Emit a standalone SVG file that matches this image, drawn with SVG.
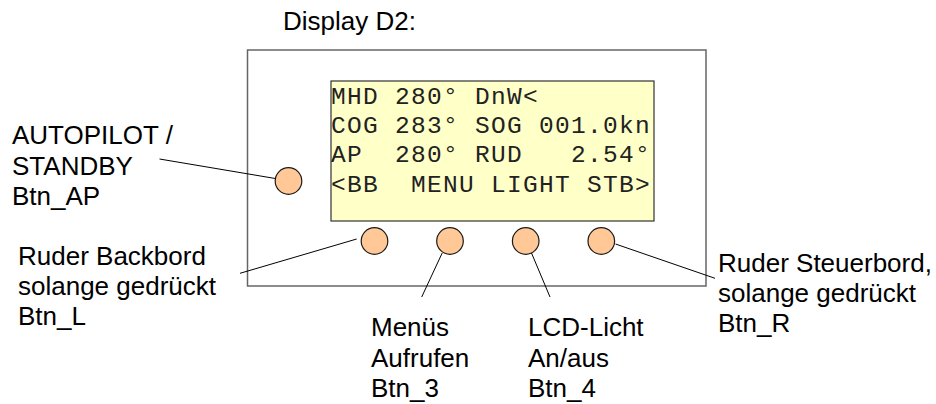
<svg xmlns="http://www.w3.org/2000/svg" width="936" height="404" viewBox="0 0 936 404">
<style>
.lbl{font-family:"Liberation Sans",Arial,sans-serif;font-size:26px;fill:#000}
.lcd{font-family:"Liberation Mono","Courier New",monospace;font-size:24.5px;letter-spacing:1.3px;fill:#222;white-space:pre}
.btn{fill:#ffc896;stroke:#1a1a1a;stroke-width:1.2}
.conn line{stroke:#000;stroke-width:1}
</style>
<rect width="936" height="404" fill="#fff"/>
<g id="title"><text class="lbl" x="283" y="30">Display D2:</text></g>
<g id="device"><rect x="247.5" y="50" width="458.5" height="236" fill="#fff" stroke="#666" stroke-width="1.5"/></g>
<g id="lcd">
<rect x="331" y="81" width="323" height="140" fill="#ffffc8" stroke="#333" stroke-width="1.2"/>
<text class="lcd" x="331" y="103.5" xml:space="preserve">MHD 280° DnW&lt;</text>
<text class="lcd" x="331" y="133" xml:space="preserve">COG 283° SOG 001.0kn</text>
<text class="lcd" x="331" y="162" xml:space="preserve">AP  280° RUD   2.54°</text>
<text class="lcd" x="331" y="191.5" xml:space="preserve">&lt;BB  MENU LIGHT STB&gt;</text>
</g>
<g id="btn_ap"><circle class="btn" cx="288.5" cy="181" r="13.3"/></g>
<g id="btn_l"><circle class="btn" cx="374.5" cy="241" r="13.3"/></g>
<g id="btn_3"><circle class="btn" cx="450" cy="241" r="13.3"/></g>
<g id="btn_4"><circle class="btn" cx="525.7" cy="241" r="13.3"/></g>
<g id="btn_r"><circle class="btn" cx="601.3" cy="241" r="13.3"/></g>
<g id="connectors" class="conn">
<line x1="159.5" y1="159" x2="275.3" y2="178.5"/>
<line x1="240" y1="273.3" x2="356.7" y2="239"/>
<line x1="421.7" y1="297" x2="442.2" y2="253"/>
<line x1="550" y1="297" x2="531.5" y2="253"/>
<line x1="715" y1="278.3" x2="615.5" y2="244"/>
</g>
<g id="label_ap"><text class="lbl"><tspan x="12" y="144">AUTOPILOT /</tspan><tspan x="12" y="174.5">STANDBY</tspan><tspan x="12" y="205">Btn_AP</tspan></text></g>
<g id="label_l"><text class="lbl"><tspan x="18" y="265">Ruder Backbord</tspan><tspan x="18" y="294.5">solange gedrückt</tspan><tspan x="18" y="324.5">Btn_L</tspan></text></g>
<g id="label_3"><text class="lbl"><tspan x="371" y="336">Menüs</tspan><tspan x="371" y="366.5">Aufrufen</tspan><tspan x="371" y="396.5">Btn_3</tspan></text></g>
<g id="label_4"><text class="lbl"><tspan x="528" y="336">LCD-Licht</tspan><tspan x="528" y="366.5">An/aus</tspan><tspan x="528" y="396.5">Btn_4</tspan></text></g>
<g id="label_r"><text class="lbl"><tspan x="718" y="271.5">Ruder Steuerbord,</tspan><tspan x="718" y="301.5">solange gedrückt</tspan><tspan x="718" y="332">Btn_R</tspan></text></g>
</svg>
